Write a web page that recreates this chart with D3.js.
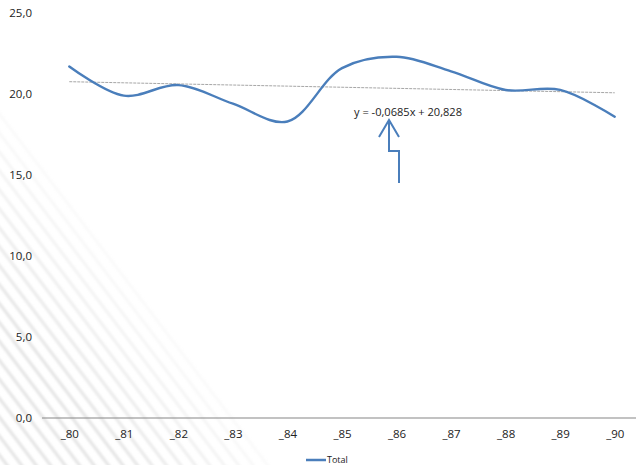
<!DOCTYPE html>
<html>
<head>
<meta charset="utf-8">
<script src="https://cdn.jsdelivr.net/npm/d3@7"></script>
<style>
  html, body { margin: 0; padding: 0; background: #fff; }
  svg { display: block; }
  text { font-family: "Open Sans", "DejaVu Sans", sans-serif; fill: #222; }
</style>
</head>
<body>
<svg id="chart" width="636" height="465"></svg>
<script>
// Yearly totals, _80 .. _90
const categories = ["_80", "_81", "_82", "_83", "_84", "_85", "_86", "_87", "_88", "_89", "_90"];
const totals = [21.7, 19.9, 20.55, 19.4, 18.3, 21.6, 22.3, 21.4, 20.25, 20.25, 18.6];
const yTicks = [0, 5, 10, 15, 20, 25];
// Linear trend fitted over the category index (1..n)
const trendSlope = -0.0685;
const trendIntercept = 20.828;
const seriesName = "Total";

const W = 636, H = 465;
const svg = d3.select("#chart");
const blue = "#4a7ebb";

// Faint diagonal watermark stripes in the lower-left corner
const defs = svg.append("defs");
defs.append("filter").attr("id", "soft")
  .append("feGaussianBlur").attr("stdDeviation", 1.3);
const stripes = svg.append("g").attr("filter", "url(#soft)");
const ux = 275, uy = 360, len = Math.hypot(ux, uy);
const dx = ux / len, dy = uy / len;        // stripe direction
const nx = -dy, ny = dx;                    // normal pointing to lower-left
for (let k = 0; k < 26; k++) {
  const off = 6 + k * 11.5;
  const ox = nx * off, oy = 105 + ny * off;
  const a = Math.min(1, 0.2 + k * 0.08);
  stripes.append("line")
    .attr("x1", ox - dx * 600).attr("y1", oy - dy * 600)
    .attr("x2", ox + dx * 600).attr("y2", oy + dy * 600)
    .attr("stroke", "#dcdcdc").attr("stroke-width", 3.2)
    .attr("stroke-opacity", a * 0.7);
}

const x = d3.scalePoint().domain(categories).range([42, 642]).padding(0.5);
const y = d3.scaleLinear().domain([0, 25]).range([418, 13]);
const comma = s => s.replace(".", ",").replace("\u2212", "-");
const fmt = v => comma(d3.format(".1f")(v));

// Y axis labels (no domain line, no tick marks)
const yAxis = svg.append("g").attr("transform", "translate(32,0)")
  .call(d3.axisLeft(y).tickValues(yTicks).tickFormat(fmt).tickSize(0).tickPadding(0));
yAxis.select(".domain").remove();
yAxis.selectAll("text").attr("font-size", 11.5).attr("fill", "#222")
  .style("font-family", '"Open Sans", sans-serif');

// X axis baseline and category labels
const xAxis = svg.append("g").attr("transform", "translate(0,418)")
  .call(d3.axisBottom(x).tickSize(0).tickPadding(12));
xAxis.select(".domain").attr("d", "M42,0H636").attr("stroke", "#868686").attr("stroke-width", 1.2);
xAxis.selectAll("text").attr("font-size", 11.5).attr("fill", "#222")
  .style("font-family", '"Open Sans", sans-serif');

// Trend line
const trendPts = categories.map((c, i) => [x(c), y(trendIntercept + trendSlope * (i + 1))]);
svg.append("path")
  .attr("d", d3.line()(trendPts))
  .attr("fill", "none").attr("stroke", "#a6a6a6").attr("stroke-width", 1)
  .attr("stroke-dasharray", "3,1");

// Smoothed series line
svg.append("path")
  .datum(totals)
  .attr("d", d3.line().x((d, i) => x(categories[i])).y(d => y(d)).curve(d3.curveCatmullRom.alpha(0.5)))
  .attr("fill", "none").attr("stroke", blue).attr("stroke-width", 2.4)
  .attr("stroke-linecap", "round");

// Trend equation label
const eq = "y = " + comma(d3.format(".4f")(trendSlope)) +
  "x + " + comma(d3.format(".3f")(trendIntercept));
svg.append("text").attr("x", 354).attr("y", 116).attr("font-size", 11)
  .attr("textLength", 108).attr("lengthAdjust", "spacingAndGlyphs")
  .style("font-family", '"Open Sans", sans-serif')
  .text(eq);

// Callout arrow pointing at the equation
svg.append("path")
  .attr("d", "M379,137L389,120L399,137M389,120L389,151L399,151L399,183")
  .attr("fill", "none").attr("stroke", blue).attr("stroke-width", 2);

// Legend
svg.append("line").attr("x1", 306).attr("x2", 326).attr("y1", 460).attr("y2", 460)
  .attr("stroke", blue).attr("stroke-width", 2.5);
svg.append("text").attr("x", 327).attr("y", 463).attr("font-size", 9)
  .style("font-family", '"Open Sans", sans-serif').text(seriesName);
</script>
</body>
</html>
